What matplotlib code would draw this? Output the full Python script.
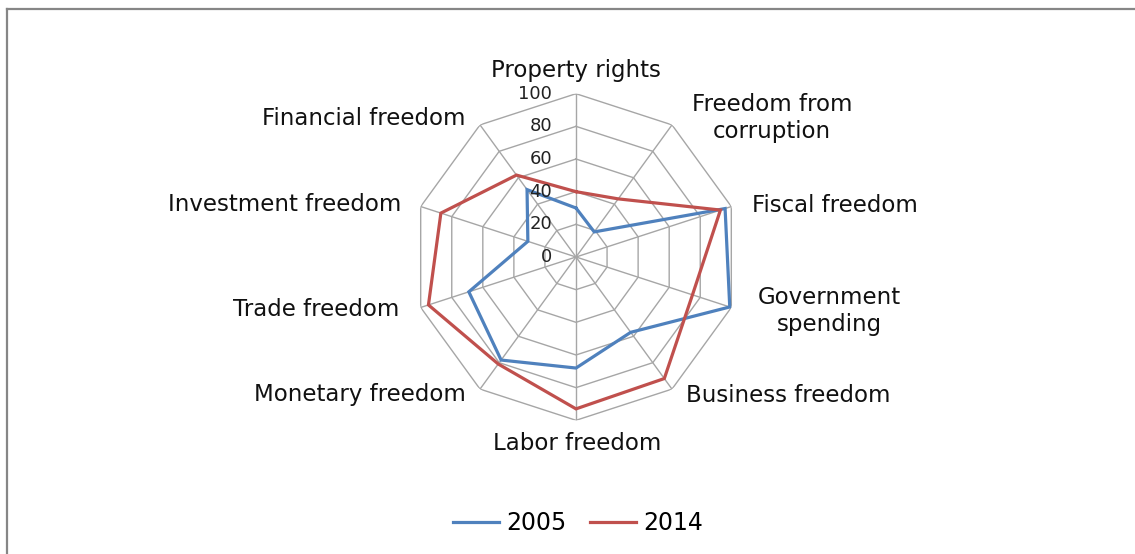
import numpy as np
import matplotlib
matplotlib.use("Agg")
import matplotlib.pyplot as plt
from matplotlib.lines import Line2D
import matplotlib.transforms as mtransforms

categories = ["Property rights", "Freedom from\ncorruption", "Fiscal freedom",
              "Government\nspending", "Business freedom", "Labor freedom",
              "Monetary freedom", "Trade freedom", "Investment freedom",
              "Financial freedom"]
values_2005 = [30, 19, 96, 99, 57, 68, 78, 69, 31, 51]
values_2014 = [40, 44, 93, 75, 92, 93, 81, 95, 87, 62]
series_names = ["2005", "2014"]
tick_values = [0, 20, 40, 60, 80, 100]

W, H = 1135, 554
fig = plt.figure(figsize=(W / 100, H / 100), dpi=100)
cx, cy, R = 576, 257, 163.3
ax = fig.add_axes([(cx - R) / W, (H - cy - R) / H, 2 * R / W, 2 * R / H], projection="polar")
ax.set_theta_zero_location("N")
ax.set_theta_direction(-1)
ax.set_ylim(0, 100)
ax.set_xticks([])
ax.set_yticks([])
ax.grid(False)
ax.spines["polar"].set_visible(False)
ax.patch.set_alpha(0)

n = len(categories)
angles = np.arange(n) * 2 * np.pi / n
closed = np.append(angles, angles[0])
grid_color = "#a6a6a6"
for t in tick_values[1:]:
    ax.plot(closed, [t] * (n + 1), color=grid_color, lw=1.0, zorder=1)
for a in angles:
    ax.plot([a, a], [0, 100], color=grid_color, lw=1.0, zorder=1)

colors = ["#4F81BD", "#C0504D"]
for vals, c, name in zip([values_2005, values_2014], colors, series_names):
    v = np.append(vals, vals[0])
    ax.plot(closed, v, color=c, lw=2.3, label=name, zorder=3, solid_joinstyle="miter")

off = mtransforms.offset_copy(ax.transData, fig=fig, x=-24 / 100 * 72, y=0, units="points")
for t in tick_values:
    ax.text(0, t, str(t), transform=off, ha="right", va="center", fontsize=13, color="#222222", zorder=4)

# category labels (pixel positions)
label_pos = [
    (576, 71, "center"), (772, 118, "center"), (752, 206, "left"),
    (829, 311, "center"), (686, 395, "left"), (577, 443, "center"),
    (466, 395, "right"), (399, 310, "right"), (401, 205, "right"),
    (466, 119, "right"),
]
for lab, (px, py, ha) in zip(categories, label_pos):
    fig.text(px / W, 1 - py / H, lab, ha=ha, va="center", fontsize=16.5,
             color="#111111", multialignment="center", linespacing=1.17)

leg = fig.legend(loc="center", bbox_to_anchor=(578 / W, 1 - 523 / H), ncol=2,
                 frameon=False, fontsize=17, handlelength=1.95, columnspacing=1.0,
                 handletextpad=0.3)

# chart border (top and left edges)
bc = "#868686"
fig.add_artist(Line2D([6.5 / W, 1], [1 - 8.5 / H, 1 - 8.5 / H], color=bc, lw=1.6, transform=fig.transFigure))
fig.add_artist(Line2D([6.5 / W, 6.5 / W], [0, 1 - 8.5 / H], color=bc, lw=1.6, transform=fig.transFigure))

fig.savefig("out.png", dpi=100, facecolor="white")
